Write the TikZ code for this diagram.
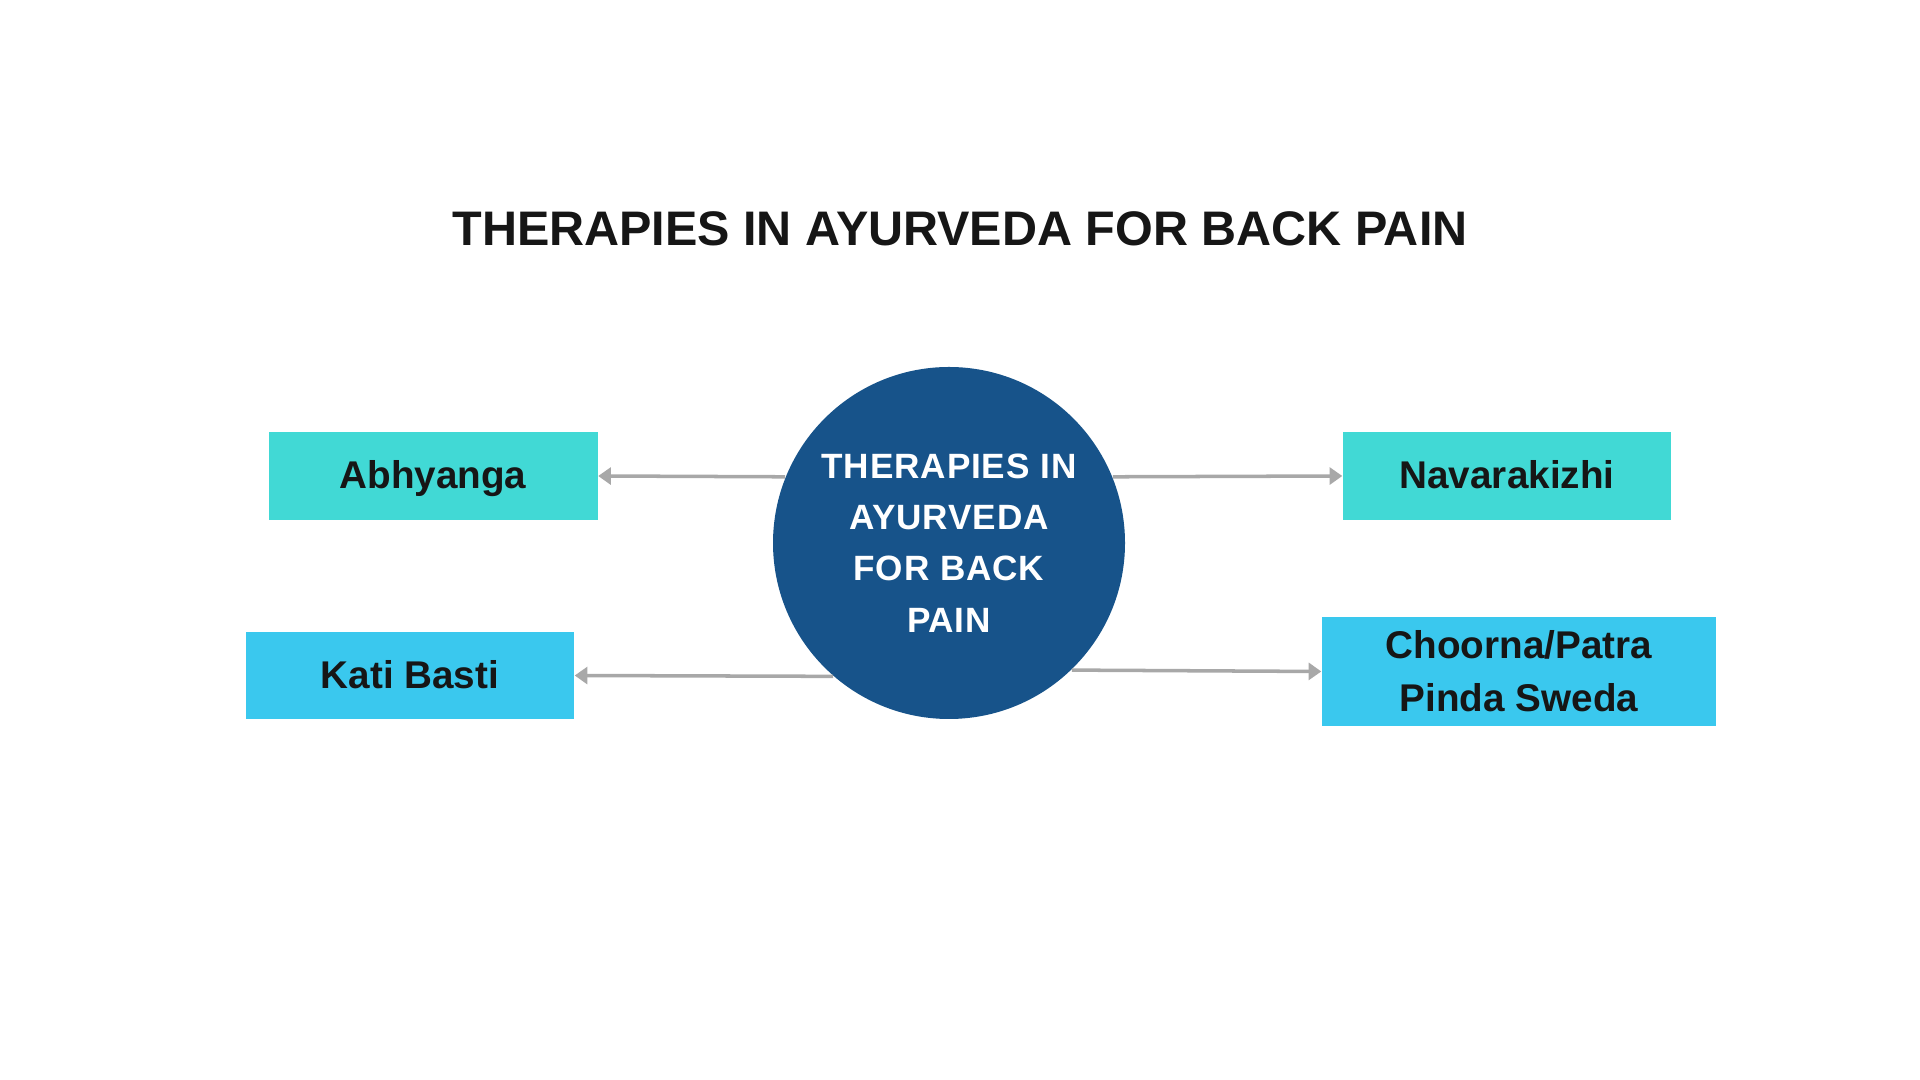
\documentclass[tikz,border=0pt]{standalone}
\usepackage{fontspec}
\setmainfont{Liberation Sans}
\usetikzlibrary{arrows.meta}
\definecolor{turq}{HTML}{41D9D5}
\definecolor{sky}{HTML}{3AC8EE}
\definecolor{navy}{HTML}{17538A}
\definecolor{arrowgray}{HTML}{A8A8A8}
\definecolor{ink}{HTML}{161616}
\begin{document}
\begin{tikzpicture}[
    therapy/.style={rectangle,inner sep=0pt,font=\bfseries\fontsize{11}{15}\selectfont,text=ink,align=center},
    oneline/.style={text height=0.72em,text depth=0pt},
    link/.style={draw=arrowgray,line width=1pt,-{Triangle[length=3.6pt,width=4.8pt]}}]
    \useasboundingbox[fill=white] (0,0) rectangle (19.2,10.8);
    \node[font=\bfseries\fontsize{13.8}{16}\selectfont,text=ink] (title) at (9.60,8.51) {THERAPIES IN AYURVEDA FOR BACK PAIN};
    \node[circle,fill=navy,minimum size=3.52cm,inner sep=0pt,text=white,align=center,
        font=\bfseries\fontsize{10}{14.6}\selectfont\addfontfeature{LetterSpace=2.5}] (hub) at (9.49,5.37)
        {THERAPIES IN\\AYURVEDA\\FOR BACK\\PAIN};
    \node[therapy,oneline,fill=turq,minimum width=3.29cm,minimum height=0.88cm] (abhyanga) at (4.33,6.04) {Abhyanga};
    \node[therapy,oneline,fill=turq,minimum width=3.28cm,minimum height=0.88cm] (navara) at (15.07,6.04) {Navarakizhi};
    \node[therapy,oneline,fill=sky,minimum width=3.28cm,minimum height=0.87cm] (kati) at (4.10,4.045) {Kati Basti};
    \node[therapy,fill=sky,minimum width=3.94cm,minimum height=1.09cm] (pinda) at (15.19,4.085) {Choorna/Patra\\Pinda Sweda};
    \draw[link] (hub.158.6) -- (abhyanga.east);
    \draw[link] (hub.22.4) -- (navara.west);
    \draw[link] (hub.229) -- (kati.east);
    \draw[link] (hub.-46.2) -- (pinda.west);
\end{tikzpicture}
\end{document}
